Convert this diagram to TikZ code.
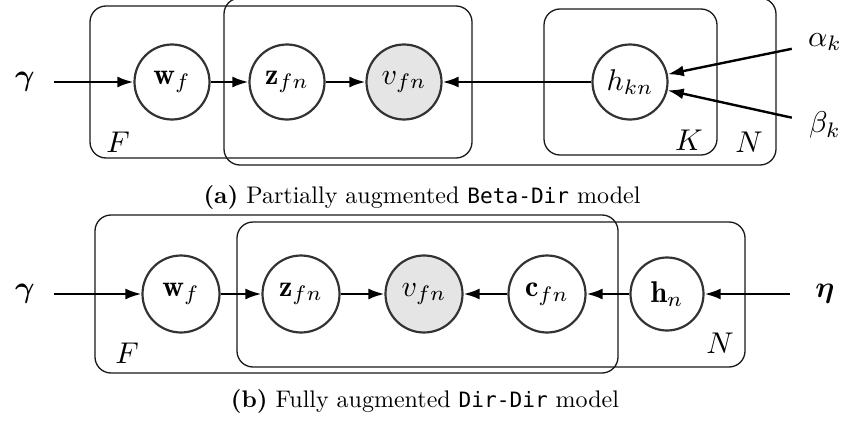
\documentclass[tikz,border=0pt]{standalone}
\usepackage{fontspec}
\usepackage{graphicx}
\usepackage{amsmath,bm}
\usetikzlibrary{arrows.meta}
\newfontfamily\codefont{DejaVu Sans Mono}[Scale=0.88]
\newcommand\nt[1]{\scalebox{3.0}{$#1$}}
\newcommand\ct[1]{\scalebox{2.4}{#1}}
\tikzset{
  var/.style={circle, draw=black!80, line width=2.2pt, minimum size=75pt, inner sep=0pt},
  varb/.style={var, minimum size=77pt},
  obs/.style={fill=black!10},
  param/.style={inner sep=0pt},
  plate/.style={draw=black!90, rounded corners=16pt, line width=1.3pt},
  plabel/.style={inner sep=0pt},
  edge/.style={-{Latex[length=16pt,width=11pt]}, line width=2.4pt},
  capt/.style={inner sep=0pt, anchor=base}
}
\begin{document}
\begin{tikzpicture}[x=1pt,y=-1pt]
\useasboundingbox (0,0) rectangle (844,423);
% ---------- panel (a) ----------
\draw[plate] (90,6) rectangle (472,158);
\draw[plate] (224,-2) rectangle (776,165);
\draw[plate] (544,9) rectangle (717,155);
\node[param, minimum width=58pt] (ga) at (25,82) {\nt{\bm{\gamma}}};
\node[var] (wa) at (172,82) {\nt{\mathbf{w}_f}};
\node[var] (za) at (287,82) {\nt{\mathbf{z}_{fn}}};
\node[var, obs] (va) at (404,82) {\nt{v_{fn}}};
\node[var] (ha) at (630,82) {\nt{h_{kn}}};
\node[param, minimum width=66pt] (al) at (825,42) {\nt{\alpha_k}};
\node[param, minimum width=66pt] (be) at (825,125) {\nt{\beta_k}};
\node[plabel] (Fa) at (118,142) {\nt{F}};
\node[plabel] (Ka) at (689,140) {\nt{K}};
\node[plabel] (Na) at (749,142) {\nt{N}};
\draw[edge] (ga) -- (wa);
\draw[edge] (wa) -- (za);
\draw[edge] (za) -- (va);
\draw[edge] (ha) -- (va);
\draw[edge] (al) -- (ha);
\draw[edge] (be) -- (ha);
\node[capt] (capa) at (422,203) {\ct{\textbf{(a)} Partially augmented {\codefont Beta-Dir} model}};
% ---------- panel (b) ----------
\draw[plate] (95,215) rectangle (618,373);
\draw[plate] (237,222) rectangle (745,367);
\node[param, minimum width=58pt] (gb) at (25,294) {\nt{\bm{\gamma}}};
\node[varb] (wb) at (181,294) {\nt{\mathbf{w}_f}};
\node[varb] (zb) at (301,294) {\nt{\mathbf{z}_{fn}}};
\node[varb, obs] (vb) at (424,294) {\nt{v_{fn}}};
\node[varb] (cb) at (547,294) {\nt{\mathbf{c}_{fn}}};
\node[varb, minimum size=73pt] (hb) at (667,294) {\nt{\mathbf{h}_n}};
\node[param, minimum width=70pt] (eb) at (825,294) {\nt{\bm{\eta}}};
\node[plabel] (Fb) at (127,353) {\nt{F}};
\node[plabel] (Nb) at (720,343) {\nt{N}};
\draw[edge] (gb) -- (wb);
\draw[edge] (wb) -- (zb);
\draw[edge] (zb) -- (vb);
\draw[edge] (cb) -- (vb);
\draw[edge] (hb) -- (cb);
\draw[edge] (eb) -- (hb);
\node[capt] (capb) at (425,407) {\ct{\textbf{(b)} Fully augmented {\codefont Dir-Dir} model}};
\end{tikzpicture}
\end{document}
